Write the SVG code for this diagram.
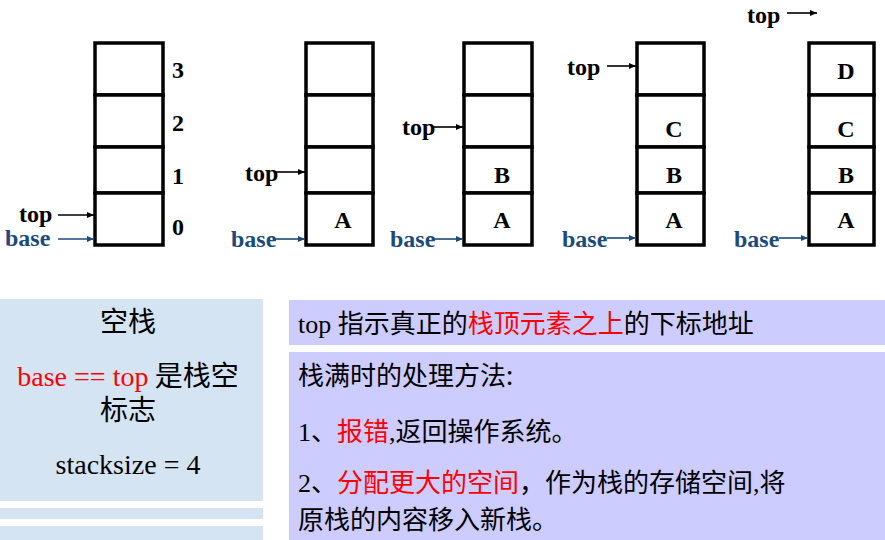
<svg xmlns="http://www.w3.org/2000/svg" width="885" height="540" viewBox="0 0 885 540">
<defs>
<marker id="ah" markerWidth="8" markerHeight="8" refX="7" refY="4" orient="auto" markerUnits="userSpaceOnUse"><path d="M0,1 L7,4 L0,7 Z" fill="#000"/></marker>
<marker id="ahb" markerWidth="8" markerHeight="8" refX="7" refY="4" orient="auto" markerUnits="userSpaceOnUse"><path d="M0,1 L7,4 L0,7 Z" fill="#1C4A7A"/></marker>
</defs>
<rect width="885" height="540" fill="#fff"/>

<g id="stack1">
<g fill="#fff" stroke="#000" stroke-width="3.5">
<rect x="95" y="43" width="68" height="52"/>
<rect x="95" y="95" width="68" height="52"/>
<rect x="95" y="147" width="68" height="46"/>
<rect x="95" y="193" width="68" height="52"/>
</g>
<text x="172" y="78" font-family="Liberation Serif" font-weight="bold" font-size="24">3</text>
<text x="172" y="131" font-family="Liberation Serif" font-weight="bold" font-size="24">2</text>
<text x="172" y="184" font-family="Liberation Serif" font-weight="bold" font-size="24">1</text>
<text x="172" y="235" font-family="Liberation Serif" font-weight="bold" font-size="24">0</text>
<text x="19" y="222" font-family="Liberation Serif" font-weight="bold" font-size="24">top</text>
<text x="5" y="246" font-family="Liberation Serif" font-weight="bold" font-size="24" fill="#1C4A7A">base</text>
</g>

<g id="stack2">
<g fill="#fff" stroke="#000" stroke-width="3.5">
<rect x="306" y="43" width="67" height="52"/>
<rect x="306" y="95" width="67" height="52"/>
<rect x="306" y="147" width="67" height="46"/>
<rect x="306" y="193" width="67" height="52"/>
</g>
<text x="343" y="228" text-anchor="middle" font-family="Liberation Serif" font-weight="bold" font-size="24">A</text>
<text x="245" y="181" font-family="Liberation Serif" font-weight="bold" font-size="24">top</text>
<text x="231" y="247" font-family="Liberation Serif" font-weight="bold" font-size="24" fill="#1C4A7A">base</text>
</g>

<g id="stack3">
<g fill="#fff" stroke="#000" stroke-width="3.5">
<rect x="464" y="43" width="68" height="52"/>
<rect x="464" y="95" width="68" height="52"/>
<rect x="464" y="147" width="68" height="46"/>
<rect x="464" y="193" width="68" height="52"/>
</g>
<text x="502" y="183" text-anchor="middle" font-family="Liberation Serif" font-weight="bold" font-size="24">B</text>
<text x="502" y="228" text-anchor="middle" font-family="Liberation Serif" font-weight="bold" font-size="24">A</text>
<text x="402" y="135" font-family="Liberation Serif" font-weight="bold" font-size="24">top</text>
<text x="390" y="247" font-family="Liberation Serif" font-weight="bold" font-size="24" fill="#1C4A7A">base</text>
</g>

<g id="stack4">
<g fill="#fff" stroke="#000" stroke-width="3.5">
<rect x="637" y="43" width="67" height="52"/>
<rect x="637" y="95" width="67" height="52"/>
<rect x="637" y="147" width="67" height="46"/>
<rect x="637" y="193" width="67" height="52"/>
</g>
<text x="674" y="137" text-anchor="middle" font-family="Liberation Serif" font-weight="bold" font-size="24">C</text>
<text x="674" y="183" text-anchor="middle" font-family="Liberation Serif" font-weight="bold" font-size="24">B</text>
<text x="674" y="228" text-anchor="middle" font-family="Liberation Serif" font-weight="bold" font-size="24">A</text>
<text x="567" y="75" font-family="Liberation Serif" font-weight="bold" font-size="24">top</text>
<text x="562" y="247" font-family="Liberation Serif" font-weight="bold" font-size="24" fill="#1C4A7A">base</text>
</g>

<g id="stack5">
<g fill="#fff" stroke="#000" stroke-width="3.5">
<rect x="809" y="43" width="65" height="52"/>
<rect x="809" y="95" width="65" height="52"/>
<rect x="809" y="147" width="65" height="46"/>
<rect x="809" y="193" width="65" height="52"/>
</g>
<text x="846" y="79" text-anchor="middle" font-family="Liberation Serif" font-weight="bold" font-size="24">D</text>
<text x="846" y="137" text-anchor="middle" font-family="Liberation Serif" font-weight="bold" font-size="24">C</text>
<text x="846" y="183" text-anchor="middle" font-family="Liberation Serif" font-weight="bold" font-size="24">B</text>
<text x="846" y="228" text-anchor="middle" font-family="Liberation Serif" font-weight="bold" font-size="24">A</text>
<text x="747" y="23" font-family="Liberation Serif" font-weight="bold" font-size="24">top</text>
<text x="734" y="247" font-family="Liberation Serif" font-weight="bold" font-size="24" fill="#1C4A7A">base</text>
</g>

<g id="connectors" stroke-width="1.6" fill="none">
<line x1="58" y1="215" x2="94" y2="215" stroke="#000" marker-end="url(#ah)"/>
<line x1="58" y1="239" x2="94" y2="239" stroke="#1C4A7A" marker-end="url(#ahb)"/>
<line x1="275" y1="172" x2="305" y2="172" stroke="#000" marker-end="url(#ah)"/>
<line x1="275" y1="239" x2="305" y2="239" stroke="#1C4A7A" marker-end="url(#ahb)"/>
<line x1="433" y1="127" x2="463" y2="127" stroke="#000" marker-end="url(#ah)"/>
<line x1="433" y1="239" x2="463" y2="239" stroke="#1C4A7A" marker-end="url(#ahb)"/>
<line x1="607" y1="66" x2="636" y2="66" stroke="#000" marker-end="url(#ah)"/>
<line x1="607" y1="238" x2="636" y2="238" stroke="#1C4A7A" marker-end="url(#ahb)"/>
<line x1="787" y1="13" x2="817" y2="13" stroke="#000" marker-end="url(#ah)"/>
<line x1="779" y1="238" x2="808" y2="238" stroke="#1C4A7A" marker-end="url(#ahb)"/>
</g>

<g id="left-panel">
<rect x="0" y="299" width="263" height="202" fill="#D4E4F2"/>
<rect x="0" y="508" width="263" height="11" fill="#D4E4F2"/>
<rect x="0" y="526" width="263" height="14" fill="#D4E4F2"/>
<text x="128" y="332" text-anchor="middle" font-family="Noto Sans CJK SC" font-size="28">空栈</text>
<text x="128" y="386" text-anchor="middle" font-size="28"><tspan fill="#FF0000" font-family="Liberation Serif">base == top</tspan><tspan font-family="Noto Sans CJK SC"> 是栈空</tspan></text>
<text x="128" y="420" text-anchor="middle" font-family="Noto Sans CJK SC" font-size="28">标志</text>
<text x="128" y="474" text-anchor="middle" font-family="Liberation Serif" font-size="28">stacksize = 4</text>
</g>

<g id="right-panel">
<rect x="289" y="300" width="596" height="45" fill="#CCCCFF"/>
<rect x="289" y="352" width="596" height="188" fill="#CCCCFF"/>
<text x="298" y="333" font-size="26"><tspan font-family="Liberation Serif">top </tspan><tspan font-family="Noto Sans CJK SC">指示真正的</tspan><tspan font-family="Noto Sans CJK SC" fill="#FF0000">栈顶元素之上</tspan><tspan font-family="Noto Sans CJK SC">的下标地址</tspan></text>
<text x="298" y="385" font-size="26" font-family="Noto Sans CJK SC">栈满时的处理方法:</text>
<text x="298" y="441" font-size="26"><tspan font-family="Liberation Serif">1</tspan><tspan font-family="Noto Sans CJK SC">、</tspan><tspan font-family="Noto Sans CJK SC" fill="#FF0000">报错</tspan><tspan font-family="Liberation Serif">,</tspan><tspan font-family="Noto Sans CJK SC">返回操作系统。</tspan></text>
<text x="298" y="492" font-size="26"><tspan font-family="Liberation Serif">2</tspan><tspan font-family="Noto Sans CJK SC">、</tspan><tspan font-family="Noto Sans CJK SC" fill="#FF0000">分配更大的空间</tspan><tspan font-family="Noto Sans CJK SC">，作为栈的存储空间</tspan><tspan font-family="Liberation Serif">,</tspan><tspan font-family="Noto Sans CJK SC">将</tspan></text>
<text x="298" y="529" font-size="26" font-family="Noto Sans CJK SC">原栈的内容移入新栈。</text>
</g>
</svg>
